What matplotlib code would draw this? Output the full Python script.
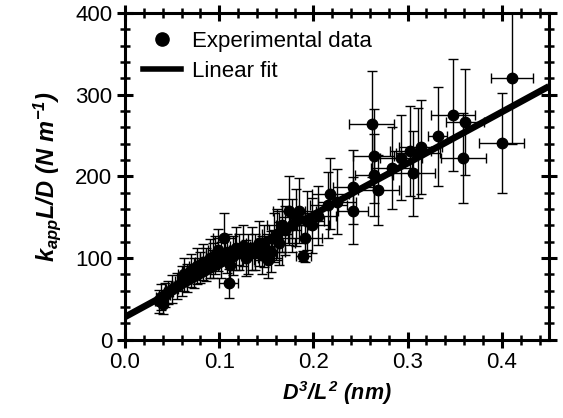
import matplotlib.pyplot as plt
from matplotlib.lines import Line2D
from matplotlib.ticker import MultipleLocator

plt.rcParams['font.family'] = ['Liberation Sans', 'DejaVu Sans']
plt.rcParams['mathtext.fontset'] = 'custom'
plt.rcParams['mathtext.rm'] = 'Liberation Sans:bold:italic'
plt.rcParams['mathtext.it'] = 'Liberation Sans:bold:italic'
plt.rcParams['mathtext.bf'] = 'Liberation Sans:bold:italic'

# D^3/L^2 (nm)
x_vals = [0.036, 0.038, 0.040, 0.043, 0.046, 0.050, 0.055, 0.060, 0.063, 0.066,
          0.070, 0.073, 0.076, 0.080, 0.083, 0.086, 0.090, 0.093, 0.096, 0.099,
          0.102, 0.105, 0.108, 0.110, 0.112, 0.115, 0.118, 0.121, 0.125, 0.128,
          0.131, 0.135, 0.138, 0.142, 0.145, 0.148, 0.152, 0.155, 0.158, 0.161,
          0.164, 0.167, 0.170, 0.174, 0.177, 0.182, 0.185, 0.189, 0.191, 0.193,
          0.198, 0.205, 0.216, 0.218, 0.225, 0.242, 0.242, 0.262, 0.264, 0.264,
          0.269, 0.283, 0.293, 0.303, 0.306, 0.311, 0.314, 0.332, 0.348, 0.359,
          0.361, 0.400, 0.411]
# k_app L / D (N/m)
y_vals = [47, 52, 44, 55, 58, 62, 66, 72, 80, 76,
          85, 82, 90, 88, 95, 92, 100, 97, 104, 110,
          98, 125, 106, 69, 92, 103, 112, 108, 115, 100,
          105, 112, 108, 118, 104, 115, 98, 108, 125, 130,
          118, 140, 134, 158, 140, 150, 158, 103, 125, 146,
          140, 152, 165, 179, 169, 187, 158, 264, 225, 202,
          183, 210, 223, 231, 204, 229, 236, 249, 275, 223,
          267, 241, 320]
y_err = [14, 16, 12, 15, 14, 17, 16, 18, 20, 17,
         20, 18, 22, 19, 22, 20, 24, 21, 23, 26,
         22, 30, 24, 18, 22, 24, 26, 22, 25, 22,
         24, 26, 22, 28, 23, 26, 22, 25, 30, 30,
         26, 32, 30, 42, 32, 35, 40, 6, 30, 36,
         34, 36, 40, 43, 40, 45, 41, 65, 57, 50,
         43, 50, 52, 55, 52, 55, 58, 61, 69, 55,
         65, 61, 80]
x_err = [0.004, 0.005, 0.004, 0.005, 0.005, 0.006, 0.006, 0.007, 0.007, 0.007,
         0.008, 0.008, 0.008, 0.009, 0.009, 0.009, 0.010, 0.010, 0.010, 0.011,
         0.011, 0.012, 0.011, 0.010, 0.012, 0.012, 0.012, 0.013, 0.013, 0.013,
         0.013, 0.014, 0.014, 0.014, 0.015, 0.015, 0.015, 0.015, 0.016, 0.016,
         0.016, 0.016, 0.017, 0.017, 0.017, 0.018, 0.018, 0.008, 0.018, 0.018,
         0.019, 0.019, 0.020, 0.020, 0.020, 0.021, 0.016, 0.024, 0.022, 0.020,
         0.022, 0.022, 0.022, 0.022, 0.023, 0.023, 0.023, 0.010, 0.023, 0.024,
         0.020, 0.024, 0.022]

fit_intercept = 28
fit_slope = 627
fit_x = [0.0, 0.45]

fig = plt.figure(figsize=(5.63, 4.18), dpi=100)
ax = fig.add_axes([0.222, 0.187, 0.753, 0.782])

ax.errorbar(x_vals, y_vals, xerr=x_err, yerr=y_err, fmt='o', color='black',
            markersize=7.5, ecolor='black', elinewidth=1.0, capsize=3.5,
            capthick=1.0, zorder=2)
ax.plot(fit_x, [fit_intercept + fit_slope * v for v in fit_x], color='black',
        lw=4.8, solid_capstyle='butt', zorder=3)

ax.set_xlim(0, 0.45)
ax.set_ylim(0, 400)
ax.xaxis.set_major_locator(MultipleLocator(0.1))
ax.xaxis.set_minor_locator(MultipleLocator(0.02))
ax.yaxis.set_major_locator(MultipleLocator(100))
ax.yaxis.set_minor_locator(MultipleLocator(20))
ax.xaxis.set_major_formatter(plt.FormatStrFormatter('%.1f'))
ax.tick_params(which='both', direction='inout', top=True, right=True,
               labelsize=16, color='black')
ax.tick_params(which='major', length=12, width=2.2, pad=3)
ax.tick_params(which='minor', length=7, width=1.8)
for sp in ax.spines.values():
    sp.set_linewidth(2.2)

ax.set_xlabel(r'$D^3/L^2\ (nm)$', fontsize=15.5, labelpad=4)
ax.set_ylabel(r'$k_{app}L/D\ (N\ m^{-1})$', fontsize=17, labelpad=9)

handles = [Line2D([], [], marker='o', ls='none', color='black', markersize=9.5),
           Line2D([], [], color='black', lw=4)]
ax.legend(handles, ['Experimental data', 'Linear fit'], loc='upper left',
          frameon=False, fontsize=16, handlelength=1.7, borderaxespad=0.3,
          labelspacing=0.4, handletextpad=0.5, borderpad=0.5)

fig.savefig('out.png', dpi=100)
